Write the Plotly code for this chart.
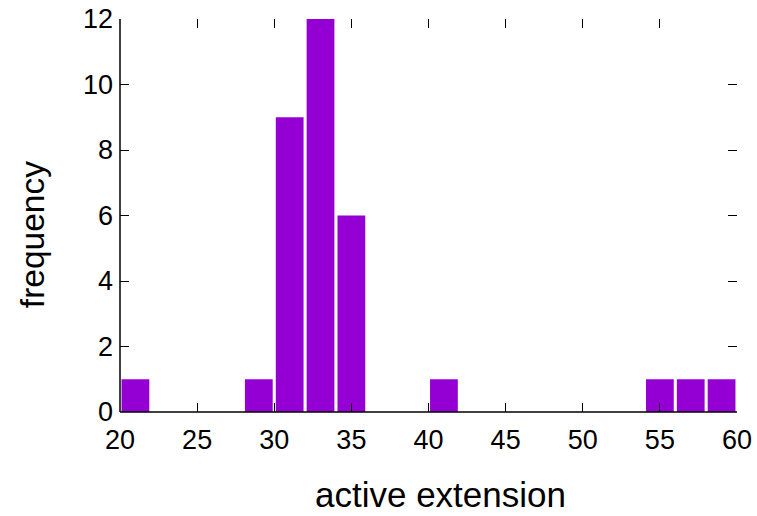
import plotly.graph_objects as go

bin_centers = [21, 29, 31, 33, 35, 41, 55, 57, 59]
frequency = [1, 1, 9, 12, 6, 1, 1, 1, 1]
x_ticks = [20, 25, 30, 35, 40, 45, 50, 55, 60]
y_ticks = [0, 2, 4, 6, 8, 10, 12]

fig = go.Figure(go.Bar(x=bin_centers, y=frequency, width=1.8,
                       marker=dict(color="#9400D3", line=dict(width=0))))

font = dict(family="Liberation Sans, Arial, sans-serif", color="black")
axis_common = dict(showline=False, showgrid=False, zeroline=False, ticks="inside",
                   ticklen=9, tickwidth=1, tickcolor="black", mirror="ticks",
                   automargin=False, tickfont=dict(size=27, **font))
fig.update_layout(
    width=757, height=516, plot_bgcolor="white", paper_bgcolor="white",
    margin=dict(l=120, r=20, t=19, b=104),
    showlegend=False,
    xaxis=dict(range=[20, 60], tickvals=x_ticks, ticklabelstandoff=9, **axis_common),
    yaxis=dict(range=[0, 12], tickvals=y_ticks, ticklabelstandoff=6, **axis_common),
    shapes=[
        dict(type="line", xref="x domain", yref="y domain", x0=0, x1=0, y0=0, y1=1, line=dict(color="black", width=1.5)),
        dict(type="line", xref="x domain", yref="y domain", x0=0, x1=1, y0=0, y1=0, line=dict(color="black", width=1.5)),
    ],
    annotations=[
        dict(text="active extension", xref="paper", yref="paper", x=0.520, y=-0.211,
             xanchor="center", yanchor="middle", showarrow=False, font=dict(size=35, **font)),
        dict(text="frequency", xref="paper", yref="paper", x=-0.1426, y=0.450, textangle=-90,
             xanchor="center", yanchor="middle", showarrow=False, font=dict(size=33.5, **font)),
    ],
)
fig.write_html("out.html", config={"displayModeBar": False},
               post_script="document.body.style.margin='0';")
